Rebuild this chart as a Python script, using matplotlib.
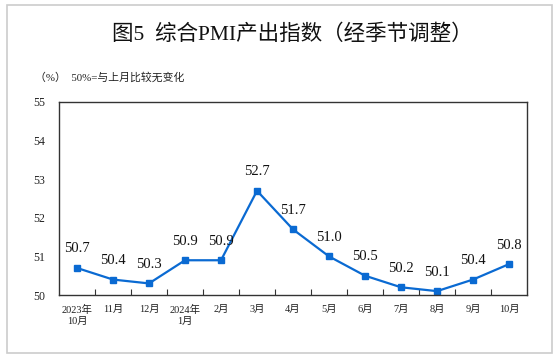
import matplotlib
matplotlib.use("Agg")
import matplotlib.pyplot as plt
from matplotlib.patches import Rectangle

plt.rcParams['font.family'] = ['Liberation Serif', 'Noto Sans CJK SC']

categories = ["2023年\n10月", "11月", "12月", "2024年\n1月", "2月", "3月", "4月",
              "5月", "6月", "7月", "8月", "9月", "10月"]
values = [50.7, 50.4, 50.3, 50.9, 50.9, 52.7, 51.7, 51.0, 50.5, 50.2, 50.1, 50.4, 50.8]
yticks = [50, 51, 52, 53, 54, 55]

W, H = 560, 363
fig = plt.figure(figsize=(W/100, H/100), dpi=100)
fig.patch.set_facecolor('white')

# outer frame
fig.add_artist(Rectangle((7/W, 1 - 353/H), (552-7)/W, (353-5)/H,
                         transform=fig.transFigure, fill=False,
                         edgecolor='#cccccc', linewidth=1.2))

ax = fig.add_axes([59/W, 1 - 295/H, (527-59)/W, (295-102)/H])
x = list(range(len(values)))
ax.plot(x, values, color='#0a6ad2', linewidth=1.6, marker='s', markersize=4.5,
        markerfacecolor='#0a6ad2', markeredgecolor='#0a6ad2')

for xi, v in zip(x, values):
    ax.annotate(f"{v:.1f}", (xi, v), xytext=(0, 9), textcoords='offset points',
                ha='center', va='bottom', fontsize=10.5, color='#111111')

ax.set_xlim(-0.5, len(values) - 0.5)
ax.set_ylim(50, 55)
ax.set_yticks(yticks)
ax.set_yticklabels([str(t) for t in yticks], fontsize=8.5, color='#222222')
ax.tick_params(axis='y', length=0, pad=10)

ax.set_xticks([i + 0.5 for i in range(len(values) - 1)], minor=False)
ax.set_xticklabels([])
ax.tick_params(axis='x', which='major', direction='in', length=4, color='#333333')
ax.set_xticks(x, minor=True)
ax.set_xticklabels(categories, minor=True, fontsize=7.5, color='#222222',
                   linespacing=1.3)
ax.tick_params(axis='x', which='minor', length=0, pad=7)
for lbl in ax.get_xticklabels(minor=True):
    lbl.set_verticalalignment('top')

for s in ax.spines.values():
    s.set_color('#333333')
    s.set_linewidth(1.0)

fig.text(292/W, 1 - 35/H, "图5  综合PMI产出指数（经季节调整）", ha='center', va='center',
         fontsize=15.5, color='#111111')
fig.text(35/W, 1 - 77/H, "（%）  50%=与上月比较无变化", ha='left', va='center',
         fontsize=7.8, color='#222222')

fig.savefig("out.png", dpi=100, facecolor='white')
